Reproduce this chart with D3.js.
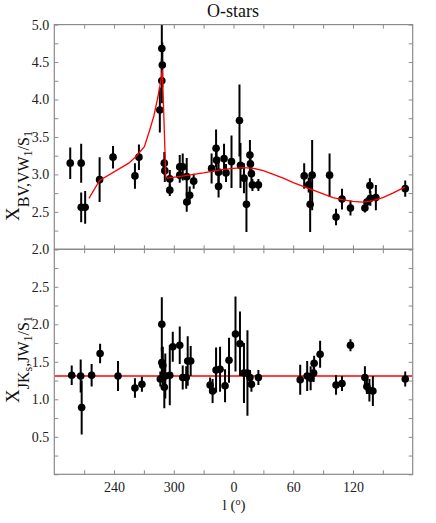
<!DOCTYPE html>
<html>
<head>
<meta charset="utf-8">
<script src="https://cdn.jsdelivr.net/npm/d3@7"></script>
<style>
  body { margin: 0; background: #fff; }
  text { font-family: "Liberation Serif", "Times New Roman", serif; }
</style>
</head>
<body>
<script>
// galactic longitude (deg) and ratio values
var title = "O-stars";

// upper panel: X_BV,VW1/S1
var lTop = [196, 207, 207, 211, 225.5, 239, 261, 265, 286, 288, 288.5, 288,
            290.5, 291, 296, 296, 306, 309, 306, 313, 313, 316, 320,
            338, 342.5, 343, 345, 345, 350.5, 352.5, 358,
            6, 7, 10.5, 13, 16.5, 17, 18, 19, 25,
            71, 75.5, 79, 77, 96.5, 103, 109, 117.5, 132, 134, 137, 137.5, 143, 172.5];
var xTop = [3.15, 3.15, 2.56, 2.56, 2.93, 3.23, 2.98, 3.23, 3.86, 4.25, 4.46, 4.68,
            3.15, 3.05, 2.94, 2.79, 3.10, 3.10, 2.99, 2.97, 2.63, 2.72, 2.91,
            3.08, 3.35, 3.19, 3.03, 2.84, 3.21, 3.02, 3.17,
            3.72, 3.12, 2.95, 2.60, 3.26, 3.14, 3.01, 2.86, 2.86,
            2.98, 2.86, 2.99, 2.60, 2.99, 2.43, 2.67, 2.55, 2.55, 2.63, 2.85, 2.68, 2.69, 2.81];
var eTop = [0.21, 0.26, 0.20, 0.22, 0.30, 0.15, 0.17, 0.17, 0.30, 0.30, 0.30, 0.40,
            0.15, 0.15, 0.12, 0.08, 0.16, 0.18, 0.10, 0.25, 0.13, 0.12, 0.10,
            0.20, 0.25, 0.20, 0.20, 0.15, 0.20, 0.12, 0.35,
            0.48, 0.30, 0.20, 0.37, 0.20, 0.15, 0.12, 0.08, 0.08,
            0.17, 0.10, 0.47, 0.37, 0.29, 0.11, 0.14, 0.10, 0.06, 0.06, 0.10, 0.10, 0.17, 0.11];

// fitted curve for the upper panel
var fitL = [214.8, 225.5, 254.8, 262, 270.5, 276, 280, 283.5, 286, 288.5, 292, 294,
            310, 330, 346, 360, 10, 20, 30, 40, 50, 60, 70, 80, 90, 100,
            110, 120, 130, 140, 150, 160, 172];
var fitX = [2.68, 2.92, 3.15, 3.24, 3.37, 3.60, 3.78, 4.00, 4.17, 4.40, 2.97, 2.95,
            2.98, 3.02, 3.06, 3.08, 3.09, 3.08, 3.05, 3.00, 2.95, 2.89, 2.84, 2.79, 2.74, 2.69,
            2.66, 2.64, 2.63, 2.65, 2.69, 2.75, 2.83];

// lower panel: X_JKs,JW1/S1
var lBot = [197.5, 206.5, 207.5, 217.5, 226, 244, 261, 268,
            286.5, 288, 288, 289, 291.5, 290.5, 296, 299, 306, 309, 312.5, 314, 317,
            336.5, 339, 342.5, 346.5, 351.5, 355.5,
            2, 6.5, 10.5, 14, 16.5, 18, 25,
            67, 74, 77.5, 80.5, 81, 87, 103, 109, 117.5, 132, 134, 136.5, 140, 172.5];
var xBot = [1.32, 1.31, 0.89, 1.32, 1.61, 1.31, 1.15, 1.20,
            1.27, 2.00, 1.49, 1.45, 1.31, 1.16, 1.32, 1.70, 1.72, 1.29, 1.29, 1.51, 1.51,
            1.19, 1.11, 1.39, 1.40, 1.18, 1.52,
            1.87, 1.74, 1.35, 1.35, 1.29, 1.20, 1.29,
            1.26, 1.31, 1.28, 1.35, 1.48, 1.60, 1.19, 1.21, 1.72, 1.29, 1.17, 1.12, 1.11, 1.27];
var eBot = [0.13, 0.22, 0.36, 0.15, 0.13, 0.20, 0.13, 0.10,
            0.10, 0.36, 0.20, 0.25, 0.30, 0.28, 0.40, 0.20, 0.25, 0.16, 0.15, 0.33, 0.20,
            0.10, 0.16, 0.30, 0.30, 0.22, 0.30,
            0.50, 0.43, 0.40, 0.57, 0.10, 0.10, 0.10,
            0.20, 0.20, 0.16, 0.12, 0.10, 0.18, 0.13, 0.10, 0.08, 0.15, 0.10, 0.15, 0.20, 0.10];
var fitBot = 1.31;

var xTickValues = [-120, -60, 0, 60, 120];
var xTickLabels = ["240", "300", "0", "60", "120"];

var width = 436, height = 523;
var left = 54.3, right = 412.7;
var top1 = 24.6, mid = 249.3, bot = 474.3;
var frameColor = "#8a8a8a";

function wrap(l) { return l > 180 ? l - 360 : l; }

var svg = d3.select("body").append("svg")
    .attr("width", width)
    .attr("height", height);

var x = d3.scaleLinear().domain([-180, 180]).range([left, right]);
var yTop = d3.scaleLinear().domain([2, 5]).range([mid, top1]);
var yBot = d3.scaleLinear().domain([0, 3]).range([bot, mid]);

var defs = svg.append("defs");
defs.append("clipPath").attr("id", "clipTop").append("rect")
    .attr("x", left).attr("y", top1).attr("width", right - left).attr("height", mid - top1);
defs.append("clipPath").attr("id", "clipBot").append("rect")
    .attr("x", left).attr("y", mid).attr("width", right - left).attr("height", bot - mid);

var xMinor = d3.range(-150, 151, 30);
var yMinor = d3.range(0, 3.01, 0.25);

function styleAxis(g) {
    g.select(".domain").remove();
    g.selectAll(".tick line").attr("stroke", frameColor).attr("stroke-width", 1);
    g.selectAll(".tick text").attr("fill", "#222").style("font-size", "14px")
        .style("font-family", "'Liberation Serif', serif");
}

function panel(y, y0, clipId, showXLabels) {
    var yTicks = yMinor.map(function(d){ return d + y0; });
    // left axis with labels
    svg.append("g").attr("transform", "translate(" + left + ",0)")
        .call(d3.axisLeft(y).tickValues(yTicks).tickSize(-4).tickPadding(5)
            .tickFormat(function(d){
                var lab = (Math.abs(d * 2 - Math.round(d * 2)) < 1e-6) ? d3.format(".1f")(d) : "";
                if (y0 === 0 && (d < 0.1 || d > 2.9)) lab = "";
                return lab;
            }))
        .call(styleAxis);
    svg.append("g").attr("transform", "translate(" + right + ",0)")
        .call(d3.axisRight(y).tickValues(yTicks).tickSize(-4).tickFormat(""))
        .call(styleAxis);
    var r = y.range();
    svg.append("g").attr("transform", "translate(0," + r[1] + ")")
        .call(d3.axisTop(x).tickValues(xMinor).tickSize(-4).tickFormat(""))
        .call(styleAxis);
    var bAxis = d3.axisBottom(x).tickValues(xMinor).tickSize(-4).tickPadding(8)
        .tickFormat(function(d){
            var i = xTickValues.indexOf(d);
            return (showXLabels && i >= 0) ? xTickLabels[i] : "";
        });
    svg.append("g").attr("transform", "translate(0," + r[0] + ")")
        .call(bAxis)
        .call(styleAxis);
    var plot = svg.append("g").attr("clip-path", "url(#" + clipId + ")");
    return plot;
}

function drawPoints(plot, y, ls, vs, es) {
    var idx = d3.range(ls.length);
    plot.selectAll("line.err").data(idx).enter().append("line")
        .attr("class", "err")
        .attr("x1", function(i){ return x(wrap(ls[i])); })
        .attr("x2", function(i){ return x(wrap(ls[i])); })
        .attr("y1", function(i){ return y(vs[i] - es[i]); })
        .attr("y2", function(i){ return y(vs[i] + es[i]); })
        .attr("stroke", "#000")
        .attr("stroke-width", 2);
    plot.selectAll("circle").data(idx).enter().append("circle")
        .attr("cx", function(i){ return x(wrap(ls[i])); })
        .attr("cy", function(i){ return y(vs[i]); })
        .attr("r", 3.8)
        .attr("fill", "#000");
}

// upper panel
var pTop = panel(yTop, 2, "clipTop", false);
drawPoints(pTop, yTop, lTop, xTop, eTop);
var fitPts = d3.range(fitL.length).map(function(i){ return [wrap(fitL[i]), fitX[i]]; });
pTop.append("path")
    .datum(fitPts)
    .attr("fill", "none")
    .attr("stroke", "#f00")
    .attr("stroke-width", 1.3)
    .attr("d", d3.line().x(function(d){ return x(d[0]); }).y(function(d){ return yTop(d[1]); }));

// lower panel
var pBot = panel(yBot, 0, "clipBot", true);
pBot.append("line")
    .attr("x1", x(-180)).attr("x2", x(180))
    .attr("y1", yBot(fitBot)).attr("y2", yBot(fitBot))
    .attr("stroke", "#f00")
    .attr("stroke-width", 1.6);
drawPoints(pBot, yBot, lBot, xBot, eBot);

// frames
svg.append("rect").attr("x", left).attr("y", top1).attr("width", right - left).attr("height", mid - top1)
    .attr("fill", "none").attr("stroke", frameColor).attr("stroke-width", 1.2);
svg.append("rect").attr("x", left).attr("y", mid).attr("width", right - left).attr("height", bot - mid)
    .attr("fill", "none").attr("stroke", frameColor).attr("stroke-width", 1.2);

// title
svg.append("text")
    .attr("x", 233).attr("y", 17)
    .attr("text-anchor", "middle")
    .style("font-size", "18px")
    .attr("fill", "#111")
    .text(title);

// x label  l (o)
var xl = svg.append("text")
    .attr("x", 234).attr("y", 510)
    .attr("text-anchor", "middle")
    .style("font-size", "15px")
    .attr("fill", "#222");
xl.append("tspan").text("l (");
xl.append("tspan").attr("dy", -5).style("font-size", "10px").text("o");
xl.append("tspan").attr("dy", 5).text(")");

// rotated y labels with subscripts
function yLabel(x0, y0, parts) {
    var t = svg.append("text")
        .attr("transform", "translate(" + x0 + "," + y0 + ") rotate(-90)")
        .attr("fill", "#111");
    var prev = 0;
    parts.forEach(function(p){
        t.append("tspan")
            .attr("dy", p[2] - prev)
            .style("font-size", p[1] + "px")
            .text(p[0]);
        prev = p[2];
    });
}
yLabel(18.5, 221, [["X", 19, 0], ["BV,VW", 16, 10], ["1", 12, 13], ["/S", 16, 10], ["1", 12, 13]]);
yLabel(18.5, 403, [["X", 19, 0], ["JK", 16, 10], ["s", 12, 13], [",JW", 16, 10], ["1", 12, 13], ["/S", 16, 10], ["1", 12, 13]]);
</script>
</body>
</html>
